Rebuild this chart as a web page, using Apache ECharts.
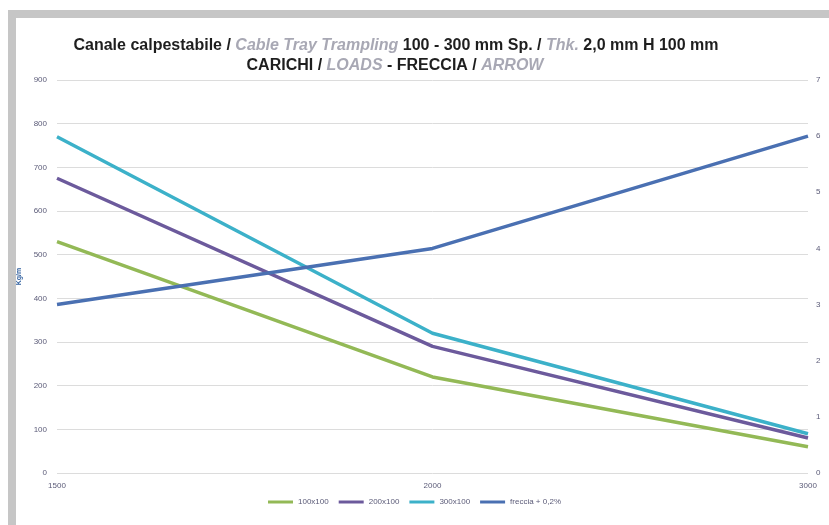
<!DOCTYPE html>
<html>
<head>
<meta charset="utf-8">
<script src="https://cdn.jsdelivr.net/npm/echarts@6/dist/echarts.min.js"></script>
<style>
html,body{margin:0;padding:0;background:#fff;}
#c{width:829px;height:525px;}
</style>
</head>
<body>
<div id="c"></div>
<script>
const categories = ['1500', '2000', '3000'];
const s100x100 = [530, 220, 60];
const s200x100 = [675, 290, 80];
const s300x100 = [770, 320, 90];
const freccia = [3, 4, 6];
const seriesNames = ['100x100', '200x100', '300x100', 'freccia + 0,2%'];

const chart = echarts.init(document.getElementById('c'), null, {renderer: 'canvas'});
const labelColor = '#5b5b78';
const fontFam = '"Liberation Sans Narrow", "Liberation Sans", sans-serif';
chart.setOption({
  backgroundColor: '#ffffff',
  animation: false,
  graphic: [
    {type: 'rect', shape: {x: 8, y: 10, width: 821, height: 8}, style: {fill: '#c6c6c6'}, silent: true},
    {type: 'rect', shape: {x: 8, y: 10, width: 8, height: 515}, style: {fill: '#c6c6c6'}, silent: true}
  ],
  title: [
    {
      left: 391, top: 33, textAlign: 'center',
      text: '{a|Canale calpestabile / }{b|Cable Tray Trampling}{a| 100 - 300 mm Sp. / }{b|Thk.}{a| 2,0 mm H 100 mm}',
      textStyle: {
        rich: {
          a: {fontFamily: fontFam, fontWeight: 'bold', fontSize: 16, color: '#1e1e1e'},
          b: {fontFamily: fontFam, fontStyle: 'italic', fontSize: 16, color: '#a8a8b4'}
        }
      }
    },
    {
      left: 390, top: 53, textAlign: 'center',
      text: '{a|CARICHI / }{b|LOADS}{a| - FRECCIA / }{b|ARROW}',
      textStyle: {
        rich: {
          a: {fontFamily: fontFam, fontWeight: 'bold', fontSize: 16, color: '#1e1e1e'},
          b: {fontFamily: fontFam, fontStyle: 'italic', fontSize: 16, color: '#a8a8b4'}
        }
      }
    }
  ],
  legend: {
    bottom: 14, left: 'center',
    itemWidth: 25, itemHeight: 3, itemGap: 10,
    icon: 'rect',
    textStyle: {fontSize: 8, color: labelColor, fontFamily: fontFam},
    data: seriesNames
  },
  grid: {left: 57, right: 21, top: 80, bottom: 52, containLabel: false},
  xAxis: {
    type: 'category', data: categories, boundaryGap: false,
    axisLine: {show: false}, axisTick: {show: false},
    axisLabel: {fontSize: 8, color: labelColor, margin: 9, fontFamily: fontFam}
  },
  yAxis: [
    {
      type: 'value', min: 0, max: 900, interval: 100,
      name: 'Kg/m', nameLocation: 'middle', nameGap: 33, nameRotate: 90,
      nameTextStyle: {fontSize: 7, color: '#2f5f9e', fontWeight: 'bold', fontFamily: fontFam},
      axisLine: {show: false}, axisTick: {show: false},
      axisLabel: {fontSize: 8, color: labelColor, margin: 10, fontFamily: fontFam},
      splitLine: {lineStyle: {color: '#dcdcdc', width: 1}}
    },
    {
      type: 'value', min: 0, max: 7, interval: 1, position: 'right',
      axisLine: {show: false}, axisTick: {show: false},
      axisLabel: {fontSize: 8, color: labelColor, margin: 8, fontFamily: fontFam},
      splitLine: {show: false}
    }
  ],
  series: [
    {name: seriesNames[0], type: 'line', data: s100x100, yAxisIndex: 0, symbol: 'none', lineStyle: {width: 3.5, color: '#93b956'}, itemStyle: {color: '#93b956'}},
    {name: seriesNames[1], type: 'line', data: s200x100, yAxisIndex: 0, symbol: 'none', lineStyle: {width: 3.5, color: '#6c5a9c'}, itemStyle: {color: '#6c5a9c'}},
    {name: seriesNames[2], type: 'line', data: s300x100, yAxisIndex: 0, symbol: 'none', lineStyle: {width: 3.5, color: '#3cb1c9'}, itemStyle: {color: '#3cb1c9'}},
    {name: seriesNames[3], type: 'line', data: freccia, yAxisIndex: 1, symbol: 'none', lineStyle: {width: 3.5, color: '#4a70b2'}, itemStyle: {color: '#4a70b2'}}
  ]
});
</script>
</body>
</html>
